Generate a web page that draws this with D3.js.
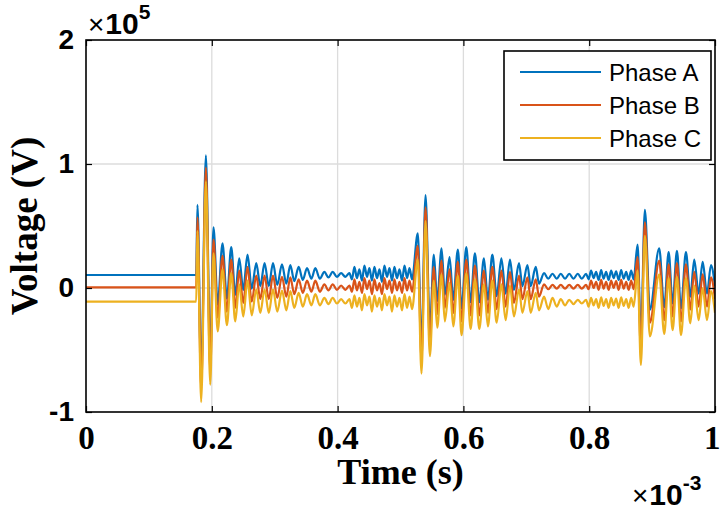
<!DOCTYPE html>
<html><head><meta charset="utf-8">
<script src="https://cdn.jsdelivr.net/npm/d3@7"></script>
<style>html,body{margin:0;padding:0;background:#fff;} svg{display:block}</style>
</head><body><svg id="chart" width="720" height="511"></svg>
<script>
// time in ms (axis shown as x10^-3 s), voltages in x10^5 V
const timeMs = [0,0.1752,0.1772,0.1831,0.1906,0.1975,0.2027,0.2094,0.2170,0.2240,0.2309,0.2373,0.2436,0.2500,0.2568,0.2635,0.2707,0.2771,0.2839,0.2906,0.2973,0.3041,0.3116,0.3185,0.3248,0.3312,0.3381,0.3447,0.3514,0.3583,0.3646,0.3718,0.3790,0.3854,0.3922,0.3989,0.4056,0.4124,0.4188,
0.4228,0.4268,0.4307,0.4347,0.4387,0.4427,0.4467,0.4506,0.4546,0.4586,0.4626,0.4666,0.4705,0.4745,0.4785,0.4825,0.4865,0.4904,0.4944,0.4984,0.5024,0.5064,0.5104,0.5143,0.5183,
0.5275,0.5334,0.5398,0.5467,0.5530,0.5584,0.5653,0.5705,0.5780,0.5839,0.5912,0.5971,0.6046,0.6115,0.6183,0.6253,0.6326,0.6390,0.6460,0.6529,0.6604,0.6672,0.6740,0.6804,0.6884,0.6938,0.7018,0.7070,0.7150,0.7202,0.7282,
0.7349,0.7416,0.7484,0.7548,0.7616,0.7683,0.7750,0.7818,0.7882,0.7951,
0.7990,0.8030,0.8070,0.8110,0.8150,0.8190,0.8229,0.8269,0.8309,0.8349,0.8389,0.8428,0.8468,0.8508,0.8548,0.8588,0.8627,0.8667,0.8707,
0.8769,0.8822,0.8885,0.8965,0.9113,0.9193,0.9263,0.9326,0.9395,0.9459,0.9538,0.9607,0.9670,0.9740,0.9804,0.9873,0.9936,1.0];

const phaseA = [0.105,0.105,0.67,-0.70,1.07,-0.565,0.49,-0.135,0.36,-0.085,0.33,-0.055,0.24,-0.015,0.27,-0.005,0.20,0.015,0.20,0.015,0.20,0.025,0.19,0.035,0.185,0.055,0.17,0.065,0.16,0.075,0.16,0.075,0.13,0.085,0.13,0.09,0.12,0.09,0.12,
0.07,0.17,0.08,0.15,0.06,0.18,0.09,0.16,0.06,0.17,0.08,0.15,0.05,0.18,0.09,0.16,0.06,0.17,0.08,0.15,0.06,0.18,0.08,0.16,0.07,
0.44,-0.475,0.75,-0.335,0.27,-0.105,0.32,-0.055,0.25,-0.095,0.31,-0.165,0.33,-0.115,0.28,-0.115,0.24,-0.095,0.27,-0.065,0.24,-0.045,0.23,-0.015,0.20,0.015,0.185,0.015,0.17,0.035,0.12,
0.075,0.115,0.075,0.115,0.075,0.115,0.075,0.115,0.075,0.115,
0.07,0.14,0.08,0.13,0.065,0.145,0.075,0.13,0.065,0.14,0.08,0.135,0.065,0.145,0.075,0.13,0.065,0.14,0.07,
0.35,-0.405,0.63,-0.175,0.32,-0.155,0.29,-0.125,0.30,-0.165,0.29,-0.07,0.23,-0.045,0.21,-0.045,0.185,0.015];

const phaseB = [0.005,0.005,0.57,-0.81,0.97,-0.67,0.39,-0.24,0.26,-0.19,0.23,-0.16,0.14,-0.12,0.17,-0.11,0.10,-0.09,0.10,-0.09,0.10,-0.08,0.09,-0.07,0.085,-0.05,0.07,-0.04,0.06,-0.03,0.06,-0.03,0.03,-0.02,0.03,-0.015,0.02,-0.015,0.02,
-0.03,0.07,-0.02,0.05,-0.04,0.08,-0.01,0.06,-0.05,0.07,-0.02,0.04,-0.05,0.08,-0.01,0.06,-0.04,0.07,-0.02,0.05,-0.04,0.08,-0.02,0.06,-0.03,
0.34,-0.58,0.65,-0.44,0.17,-0.21,0.22,-0.16,0.15,-0.20,0.21,-0.27,0.23,-0.22,0.18,-0.22,0.14,-0.20,0.17,-0.17,0.14,-0.15,0.13,-0.12,0.10,-0.09,0.085,-0.09,0.07,-0.07,0.03,
-0.01,0.025,-0.005,0.025,-0.005,0.025,-0.005,0.025,-0.005,0.025,
-0.01,0.06,0.0,0.05,-0.015,0.065,-0.005,0.05,-0.015,0.06,0.0,0.055,-0.015,0.065,-0.005,0.05,-0.015,0.06,-0.01,
0.25,-0.51,0.53,-0.28,0.22,-0.26,0.19,-0.23,0.20,-0.27,0.19,-0.175,0.13,-0.15,0.11,-0.15,0.085,-0.09];

const phaseC = [-0.11,-0.11,0.46,-0.92,0.86,-0.78,0.28,-0.35,0.15,-0.30,0.12,-0.27,0.03,-0.23,0.06,-0.22,-0.01,-0.20,-0.01,-0.20,-0.01,-0.19,-0.02,-0.18,-0.025,-0.16,-0.04,-0.15,-0.05,-0.14,-0.05,-0.14,-0.08,-0.13,-0.08,-0.125,-0.09,-0.125,-0.09,
-0.16,-0.06,-0.15,-0.08,-0.18,-0.05,-0.14,-0.07,-0.19,-0.06,-0.15,-0.08,-0.18,-0.05,-0.14,-0.07,-0.19,-0.06,-0.15,-0.08,-0.18,-0.05,-0.16,-0.07,-0.17,
0.23,-0.69,0.54,-0.55,0.06,-0.32,0.11,-0.27,0.04,-0.31,0.10,-0.38,0.12,-0.33,0.07,-0.33,0.03,-0.31,0.06,-0.28,0.03,-0.26,0.02,-0.23,-0.01,-0.20,-0.025,-0.20,-0.04,-0.18,-0.07,
-0.17,-0.08,-0.15,-0.09,-0.14,-0.095,-0.13,-0.095,-0.125,-0.095,
-0.15,-0.08,-0.14,-0.09,-0.16,-0.075,-0.145,-0.09,-0.16,-0.08,-0.14,-0.085,-0.16,-0.075,-0.145,-0.09,-0.16,-0.08,-0.15,
0.14,-0.62,0.42,-0.39,0.11,-0.37,0.08,-0.34,0.09,-0.38,0.08,-0.285,0.02,-0.26,0.0,-0.26,-0.025,-0.20];

const seriesNames = ["Phase A","Phase B","Phase C"];
const seriesColors = ["#0072BD","#D95319","#EDB120"];
const xTicks = [0,0.2,0.4,0.6,0.8,1];
const xTickLabels = ["0","0.2","0.4","0.6","0.8","1"];
const yTicks = [-1,0,1,2];
const yTickLabels = ["-1","0","1","2"];

const svg = d3.select("#chart");
const L = 86, R = 715, T = 40, B = 412;
const x = d3.scaleLinear().domain([0, 1]).range([L, R]);
const y = d3.scaleLinear().domain([-1, 2]).range([B, T]);

svg.append("rect").attr("width",720).attr("height",511).attr("fill","#fff");

// grid
const grid = svg.append("g").attr("stroke","#dcdcdc").attr("stroke-width",1.3);
grid.selectAll("line.gx").data(xTicks.filter(d=>d>0&&d<1)).join("line")
  .attr("x1",d=>x(d)).attr("x2",d=>x(d)).attr("y1",T).attr("y2",B);
grid.selectAll("line.gy").data(yTicks.filter(d=>d>-1&&d<2)).join("line")
  .attr("x1",L).attr("x2",R).attr("y1",d=>y(d)).attr("y2",d=>y(d));

// clip
svg.append("clipPath").attr("id","clip").append("rect")
  .attr("x",L).attr("y",T).attr("width",R-L).attr("height",B-T);

const line = d3.line()
  .x((d,i)=>x(timeMs[i]))
  .y(d=>y(d))
  .curve(d3.curveMonotoneX);

const series = [phaseA, phaseB, phaseC];
svg.append("g").attr("clip-path","url(#clip)")
  .selectAll("path").data(series).join("path")
  .attr("d", d=>line(d))
  .attr("fill","none")
  .attr("stroke",(d,i)=>seriesColors[i])
  .attr("stroke-width",2.2)
  .attr("stroke-linejoin","round");

// axes
const ax = svg.append("g").attr("transform",`translate(0,${B})`)
  .call(d3.axisBottom(x).tickValues(xTicks).tickFormat((d,i)=>xTickLabels[i]).tickSize(-6).tickSizeOuter(0).tickPadding(14));
ax.select(".domain").remove();
ax.selectAll("text").attr("font-family","'Liberation Serif','Times New Roman',serif").attr("font-weight","bold").attr("font-size",33).attr("fill","#000");
ax.selectAll(".tick").filter(d=>d===1).select("text").attr("text-anchor","end").attr("dx",5);
ax.selectAll("line").attr("stroke","#000").attr("stroke-width",1.2);

const ay = svg.append("g").attr("transform",`translate(${L},0)`)
  .call(d3.axisLeft(y).tickValues(yTicks).tickFormat((d,i)=>yTickLabels[i]).tickSize(-6).tickSizeOuter(0).tickPadding(12));
ay.select(".domain").remove();
ay.selectAll("text").attr("font-family","'Liberation Sans',Arial,sans-serif").attr("font-weight","bold").attr("font-size",28).attr("fill","#000");
ay.selectAll("line").attr("stroke","#000").attr("stroke-width",1.2);

const at = svg.append("g").attr("transform",`translate(0,${T})`)
  .call(d3.axisTop(x).tickValues(xTicks).tickFormat("").tickSize(-6).tickSizeOuter(0));
at.select(".domain").remove();
at.selectAll("line").attr("stroke","#000").attr("stroke-width",1.2);
const ar = svg.append("g").attr("transform",`translate(${R},0)`)
  .call(d3.axisRight(y).tickValues(yTicks).tickFormat("").tickSize(-6).tickSizeOuter(0));
ar.select(".domain").remove();
ar.selectAll("line").attr("stroke","#000").attr("stroke-width",1.2);

svg.append("rect").attr("x",L).attr("y",T).attr("width",R-L).attr("height",B-T)
  .attr("fill","none").attr("stroke","#000").attr("stroke-width",1.6);

// axis titles
svg.append("text").attr("x",(L+R)/2).attr("y",484).attr("text-anchor","middle")
  .attr("font-family","'Liberation Serif','Times New Roman',serif").attr("font-weight","bold").attr("font-size",36)
  .text("Time (s)");
svg.append("text").attr("transform",`translate(24,${(T+B)/2}) rotate(-90)`).attr("text-anchor","middle").attr("dy","0.35em")
  .attr("font-family","'Liberation Serif','Times New Roman',serif").attr("font-weight","bold").attr("font-size",37)
  .text("Voltage (V)");

// exponent labels
function expo(xp, yp, exp){
  const t = svg.append("text").attr("x",xp).attr("y",yp).attr("fill","#000");
  t.append("tspan").attr("font-family","'Liberation Sans',Arial,sans-serif").attr("font-size",28).text("×");
  t.append("tspan").attr("font-family","'Liberation Sans',Arial,sans-serif").attr("font-weight","bold").attr("font-size",30).attr("dx",1).text("10");
  t.append("tspan").attr("font-family","'Liberation Sans',Arial,sans-serif").attr("font-weight","bold").attr("font-size",21).attr("dy",-15).text(exp);
}
expo(88, 34, "5");
expo(632, 505, "-3");

// legend
const lg = svg.append("g");
lg.append("rect").attr("x",504).attr("y",51).attr("width",207).attr("height",109)
  .attr("fill","#fff").attr("stroke","#000").attr("stroke-width",1.6);
const rows = lg.selectAll("g.row").data(seriesNames).join("g").attr("transform",(d,i)=>`translate(0,${72+i*33})`);
rows.append("line").attr("x1",520).attr("x2",601).attr("y1",0).attr("y2",0)
  .attr("stroke",(d,i)=>seriesColors[i]).attr("stroke-width",2.2);
rows.append("text").attr("x",609).attr("y",8.5)
  .attr("font-family","'Liberation Sans',Arial,sans-serif").attr("font-size",24).attr("fill","#000")
  .text(d=>d);
</script></body></html>
